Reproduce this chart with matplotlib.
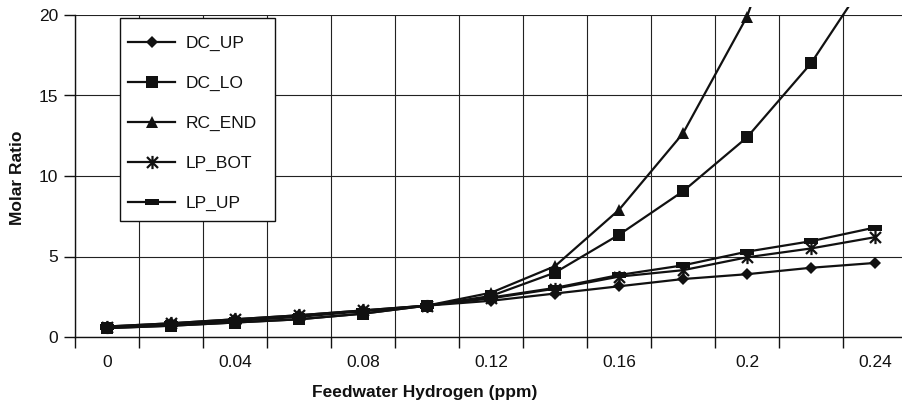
import matplotlib
matplotlib.use("Agg")
import matplotlib.pyplot as plt
from matplotlib.path import Path
from matplotlib.patches import Rectangle

plt.rcParams['font.family'] = ['Liberation Sans', 'DejaVu Sans']

categories = ['0', '0.02', '0.04', '0.06', '0.08', '0.1', '0.12',
              '0.14', '0.16', '0.18', '0.2', '0.22', '0.24']
tick_labels = ['0', '', '0.04', '', '0.08', '', '0.12', '',
               '0.16', '', '0.2', '', '0.24']

dc_up = [0.65, 0.85, 1.1, 1.35, 1.65, 1.95, 2.25, 2.7, 3.15, 3.6, 3.9, 4.3, 4.6]
dc_lo = [0.55, 0.7, 0.9, 1.1, 1.45, 1.95, 2.55, 4.0, 6.35, 9.05, 12.4, 17.0, 23.0]
rc_end = [0.55, 0.7, 0.9, 1.1, 1.45, 1.95, 2.75, 4.4, 7.9, 12.65, 19.9, 31.0, 48.0]
lp_bot = [0.65, 0.85, 1.1, 1.35, 1.65, 1.95, 2.4, 3.0, 3.75, 4.15, 4.95, 5.5, 6.2]
lp_up = [0.6, 0.8, 1.0, 1.25, 1.6, 1.95, 2.45, 3.05, 3.85, 4.45, 5.3, 5.95, 6.8]

series_names = ['DC_UP', 'DC_LO', 'RC_END', 'LP_BOT', 'LP_UP']

W, H = 903, 407
fig = plt.figure(figsize=(W / 100, H / 100), dpi=100)
left, right, top, bottom = 75, 907, 15, 337
ax = fig.add_axes([left / W, 1 - bottom / H, (right - left) / W, (bottom - top) / H])

star = Path([(-1, -1), (1, 1), (-1, 1), (1, -1), (0, -1.2), (0, 1.2)],
            [Path.MOVETO, Path.LINETO, Path.MOVETO, Path.LINETO, Path.MOVETO, Path.LINETO])
dash = Path([(-1, -0.38), (1, -0.38), (1, 0.38), (-1, 0.38), (-1, -0.38)],
            [Path.MOVETO, Path.LINETO, Path.LINETO, Path.LINETO, Path.CLOSEPOLY])

styles = [
    dict(marker='D', markersize=5.8, markeredgewidth=0),
    dict(marker='s', markersize=8.2, markeredgewidth=0),
    dict(marker='^', markersize=9.0, markeredgewidth=0),
    dict(marker=star, markersize=9.5, markeredgewidth=1.6, markerfacecolor='none'),
    dict(marker=dash, markersize=10.5, markeredgewidth=0),
]

x = list(range(len(categories)))
clip = Rectangle((0, 0), 1, 1.025, transform=ax.transAxes, facecolor='none', edgecolor='none')
for name, vals, st in zip(series_names, [dc_up, dc_lo, rc_end, lp_bot, lp_up], styles):
    ln, = ax.plot(x, vals, color='#111111', linewidth=1.6, label=name,
                  markerfacecolor=st.pop('markerfacecolor', '#111111'),
                  markeredgecolor='#111111', **st)
    ln.set_clip_path(clip)

ax.set_xlim(-0.5, len(categories) - 0.5)
ax.set_ylim(0, 20)
ax.set_yticks([0, 5, 10, 15, 20])
ax.set_xticks(x)
ax.set_xticklabels(tick_labels)
ax.set_xticks([i - 0.5 for i in range(len(categories) + 1)], minor=True)
ax.tick_params(axis='x', which='major', length=0, pad=13, labelsize=12.5, colors='#111111')
ax.tick_params(axis='x', which='minor', length=8, width=1, direction='out', color='#111111')
ax.tick_params(axis='y', which='major', length=8, width=1, direction='out', pad=4,
               labelsize=12.5, colors='#111111')
ax.grid(True, axis='x', which='minor', color='#222222', linewidth=0.8)
ax.grid(True, axis='y', which='major', color='#222222', linewidth=0.8)
ax.set_axisbelow(True)
for s in ['top', 'right']:
    ax.spines[s].set_visible(False)
for s in ['left', 'bottom']:
    ax.spines[s].set_color('#111111')
    ax.spines[s].set_linewidth(1.0)

fig.text(18 / W, 1 - 178 / H, 'Molar Ratio', rotation=90, ha='center', va='center',
         fontsize=12.5, fontweight='bold', color='#111111')
fig.text(425 / W, 1 - 392 / H, 'Feedwater Hydrogen (ppm)', ha='center', va='center',
         fontsize=12.5, fontweight='bold', color='#111111')

# legend frame drawn as a patch (figure pixel box 120..275 x 18..221)
frame = Rectangle((120 / W, 1 - 221 / H), (275 - 120) / W, (221 - 18) / H,
                  transform=fig.transFigure, facecolor='white', edgecolor='#111111',
                  linewidth=1.0, zorder=4, clip_on=False)
ax.add_patch(frame)

leg = ax.legend(loc='upper left', bbox_to_anchor=(116 / W, 1 - 24 / H),
                bbox_transform=fig.transFigure, borderaxespad=0, frameon=False,
                fontsize=12.5, handlelength=2.7,
                labelspacing=1.42, borderpad=0.7, handletextpad=0.6)
leg.set_zorder(5)
for t in leg.get_texts():
    t.set_color('#111111')

fig.savefig('out.png', dpi=100)
